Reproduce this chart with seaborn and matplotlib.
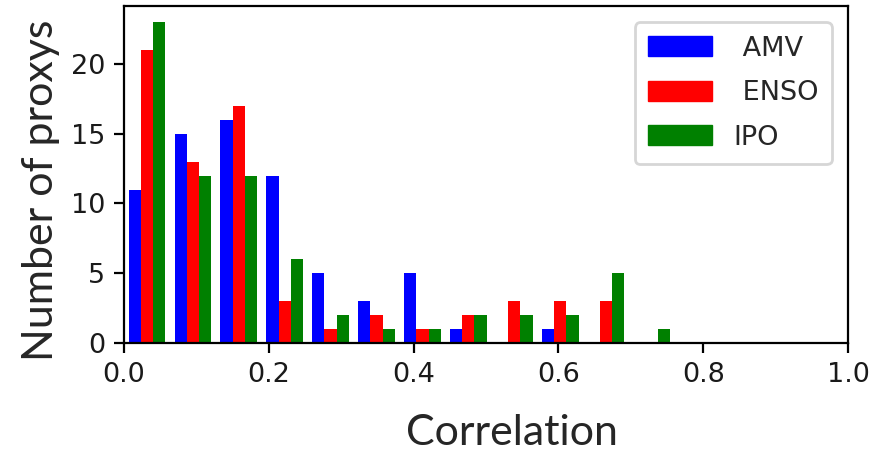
import numpy as np
import pandas as pd
import matplotlib
matplotlib.use("Agg")
import matplotlib.pyplot as plt
import matplotlib.patches as mpatches
import seaborn as sns

# ---- data ----
series = ["AMV", "ENSO", "IPO"]
amv_counts  = [11, 15, 16, 12, 5, 3, 5, 1, 0, 1, 0, 0]
enso_counts = [21, 13, 17, 3, 1, 2, 1, 2, 3, 3, 3, 0]
ipo_counts  = [23, 12, 12, 6, 2, 1, 1, 2, 2, 2, 5, 1]
bin_edges = list(np.linspace(0.0, 0.761, 13))
legend_labels = [" AMV", " ENSO", "IPO"]
xticks = [0.0, 0.2, 0.4, 0.6, 0.8, 1.0]
yticks = [0, 5, 10, 15, 20]
colors = {"AMV": "blue", "ENSO": "red", "IPO": "green"}

edges_arr = np.array(bin_edges)
centers = (edges_arr[:-1] + edges_arr[1:]) / 2
rows = []
for name, counts in zip(series, [amv_counts, enso_counts, ipo_counts]):
    for c, n in zip(centers, counts):
        rows.append({"Correlation": c, "count": n, "series": name})
df = pd.DataFrame(rows)

sns.set_style("ticks")
plt.rcParams["font.family"] = ["DejaVu Sans"]

fig = plt.figure(figsize=(8.77, 4.54), dpi=100)
ax = fig.add_axes([124 / 877, 1 - 343 / 454, 724 / 877, 337 / 454])

sns.histplot(data=df, x="Correlation", weights="count", hue="series",
             hue_order=series, palette=colors, bins=bin_edges,
             multiple="dodge", shrink=0.8, alpha=1, linewidth=0,
             edgecolor="none", legend=False, ax=ax)

ax.set_xlim(0, 1.0)
ax.set_ylim(0, 24.15)
ax.set_xticks(xticks)
ax.set_yticks(yticks)
ax.tick_params(axis="both", labelsize=19.5, length=7, width=1.6, pad=6.5,
               direction="out", color="black", labelcolor="#1a1a1a")
for s in ax.spines.values():
    s.set_linewidth(1.6)
    s.set_color("black")

lab_font = dict(family=["Lato", "DejaVu Sans"], fontsize=31)
ax.set_xlabel("Correlation", **lab_font)
ax.set_ylabel("Number of proxys", **lab_font)
ax.xaxis.set_label_coords(0.536, -0.21)
ax.yaxis.set_label_coords(-0.088, 0.454)

handles = [mpatches.Patch(color=colors[s]) for s in series]
leg = ax.legend(handles, legend_labels, loc="upper right", fontsize=19.5,
                handlelength=2.35, handleheight=0.75, frameon=True, fancybox=True,
                edgecolor="#cccccc", framealpha=0.8, borderpad=0.5,
                labelspacing=0.68, borderaxespad=0.6, handletextpad=0.8)
leg.get_frame().set_linewidth(2.0)

fig.savefig("out.png", dpi=100)
